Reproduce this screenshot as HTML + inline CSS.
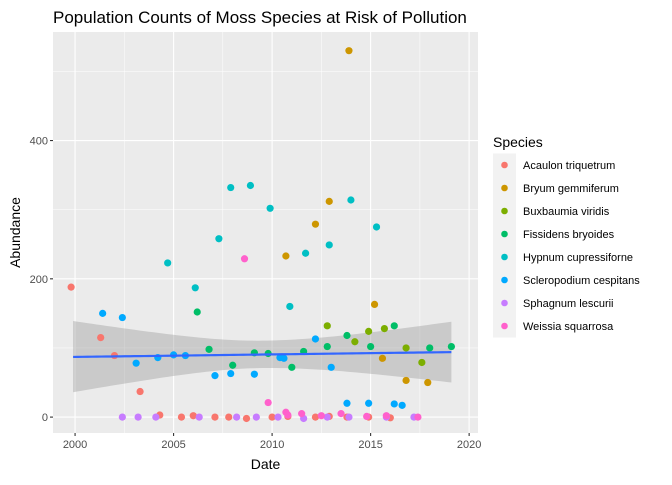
<!DOCTYPE html>
<html><head><meta charset="utf-8"><style>
body{margin:0;background:#fff;font-family:"Liberation Sans",Arial,sans-serif}
svg text{font-family:"Liberation Sans",Arial,sans-serif}
</style></head><body>
<svg id="chart" width="672" height="480" xmlns="http://www.w3.org/2000/svg"></svg>
<script>
const speciesNames=["Acaulon triquetrum","Bryum gemmiferum","Buxbaumia viridis","Fissidens bryoides","Hypnum cupressiforne","Scleropodium cespitans","Sphagnum lescurii","Weissia squarrosa"];
const speciesColors=["#F8766D","#CD9600","#7CAE00","#00BE67","#00BFC4","#00A9FF","#C77CFF","#FF61CC"];
const acaulonX=[1999.8,2001.3,2002.0,2003.3,2004.3,2005.4,2006.0,2007.1,2007.8,2008.7,2010.0,2010.8,2012.2,2012.9,2013.8,2014.9,2016.0];
const acaulonY=[188,115,89,37,3,0,2,0,0,-2,0,1,0,1,0,0,-1];
const bryumX=[2010.7,2012.2,2012.9,2013.9,2015.2,2015.6,2016.8,2017.9];
const bryumY=[233,279,312,530,163,85,53,50];
const buxX=[2012.8,2014.2,2014.9,2015.7,2016.8,2017.6];
const buxY=[132,109,124,128,100,79];
const fissX=[2006.2,2006.8,2008.0,2009.1,2009.8,2011.0,2011.6,2012.8,2013.8,2015.0,2016.2,2018.0,2019.1];
const fissY=[152,98,75,93,92,72,95,102,118,102,132,100,102];
const hypX=[2004.7,2006.1,2007.3,2007.9,2008.9,2009.9,2010.9,2011.7,2012.9,2014.0,2015.3];
const hypY=[223,187,258,332,335,302,160,237,249,314,275];
const sclX=[2001.4,2002.4,2003.1,2004.2,2005.0,2005.6,2007.1,2007.9,2009.1,2010.4,2010.6,2012.2,2013.0,2013.8,2014.9,2016.2,2016.6];
const sclY=[150,144,78,86,90,89,60,63,62,86,85,113,72,20,20,19,17];
const sphX=[2002.4,2003.2,2004.1,2006.3,2008.2,2009.2,2010.3,2011.6,2012.8,2013.9,2015.8,2017.2];
const sphY=[0,0,0,0,0,0,0,-2,0,0,0,0];
const weiX=[2008.6,2009.8,2010.7,2010.8,2011.5,2012.5,2013.5,2014.8,2015.8,2017.4];
const weiY=[229,21,7,3,5,2,5,1,2,0];
const seriesX=[acaulonX,bryumX,buxX,fissX,hypX,sclX,sphX,weiX];
const seriesY=[acaulonY,bryumY,buxY,fissY,hypY,sclY,sphY,weiY];
const trendX=[1999.9,2019.1];
const trendFit=[87,94];
const trendLower=[36,50];
const trendUpper=[139,138];
const xTicks=[2000,2005,2010,2015,2020];
const yTicks=[0,200,400];

const NS="http://www.w3.org/2000/svg";
const svg=document.getElementById('chart');
const P={l:53,r:478,t:32,b:433};
const xMin=1998.88,xMax=2020.45,yMin=-23,yMax=557;
const sx=v=>P.l+(v-xMin)/(xMax-xMin)*(P.r-P.l);
const sy=v=>P.b-(v-yMin)/(yMax-yMin)*(P.b-P.t);
function mk(tag,attrs,parent){const e=document.createElementNS(NS,tag);for(const k in attrs)e.setAttribute(k,attrs[k]);(parent||svg).appendChild(e);return e;}

const bg=mk('rect',{x:P.l,y:P.t,width:P.r-P.l,height:P.b-P.t,fill:'#EBEBEB'});


const grid=mk('g',{});


for(let i=0;i<xTicks.length-1;i++){const m=(xTicks[i]+xTicks[i+1])/2;mk('line',{x1:sx(m),x2:sx(m),y1:P.t,y2:P.b,stroke:'#fff','stroke-width':0.5},grid);}
for(let i=0;i<yTicks.length-1;i++){const m=(yTicks[i]+yTicks[i+1])/2;mk('line',{x1:P.l,x2:P.r,y1:sy(m),y2:sy(m),stroke:'#fff','stroke-width':0.5},grid);}
mk('line',{x1:P.l,x2:P.r,y1:sy(500),y2:sy(500),stroke:'#fff','stroke-width':0.5},grid);
xTicks.forEach(t=>{mk('line',{x1:sx(t),x2:sx(t),y1:P.t,y2:P.b,stroke:'#fff','stroke-width':1.1},grid);
 mk('line',{x1:sx(t),x2:sx(t),y1:P.b,y2:P.b+3,stroke:'#333','stroke-width':1.1});
 const tx=mk('text',{x:sx(t),y:P.b+15,'text-anchor':'middle','font-size':11,fill:'#4D4D4D'});tx.textContent=t;
 
 });
yTicks.forEach(t=>{mk('line',{x1:P.l,x2:P.r,y1:sy(t),y2:sy(t),stroke:'#fff','stroke-width':1.1},grid);
 mk('line',{x1:P.l-3,x2:P.l,y1:sy(t),y2:sy(t),stroke:'#333','stroke-width':1.1});
 const tx=mk('text',{x:P.l-5,y:sy(t)+4,'text-anchor':'end','font-size':11,fill:'#4D4D4D'});tx.textContent=t;
 
 });

// linear fit band: fit linear, bounds hyperbolic-ish via quadratic interpolation of half-width
const up=[],lo=[],ln=[];
const xm=(trendX[0]+trendX[1])/2;
const hw0=(trendUpper[0]-trendLower[0])/2,hw1=(trendUpper[1]-trendLower[1])/2;
const hwMin=Math.min(hw0,hw1)*0.45;
for(let k=0;k<=80;k++){const u=k/80,x=trendX[0]+(trendX[1]-trendX[0])*u;
 const f=trendFit[0]+(trendFit[1]-trendFit[0])*u;
 const d=(u-0.5)*2;
 const edge=u<0.5?hw0:hw1;
 const hw=Math.sqrt(hwMin*hwMin+(edge*edge-hwMin*hwMin)*d*d);
 const c0=(trendUpper[0]+trendLower[0])/2,c1=(trendUpper[1]+trendLower[1])/2;
 const c=f+((c0-trendFit[0])*(1-u)+(c1-trendFit[1])*u);
 up.push(sx(x)+','+sy(c+hw));lo.unshift(sx(x)+','+sy(c-hw));ln.push(sx(x)+','+sy(f));}
const rib=mk('polygon',{points:up.concat(lo).join(' '),fill:'#999',opacity:0.4});



seriesX.forEach((xs,i)=>{const g=mk('g',{});
 
 
 xs.forEach((x,j)=>{const c=mk('circle',{cx:sx(x),cy:sy(seriesY[i][j]),r:3.6,fill:speciesColors[i]},g);
  
  });});

const fl=mk('polyline',{points:ln.join(' '),fill:'none',stroke:'#3366FF','stroke-width':2.2});



const title=mk('text',{x:53,y:23,'font-size':17,fill:'#000'});title.textContent='Population Counts of Moss Species at Risk of Pollution';


const xt=mk('text',{x:(P.l+P.r)/2,y:469,'text-anchor':'middle','font-size':14,fill:'#000'});xt.textContent='Date';


const yt=mk('text',{x:0,y:0,'text-anchor':'middle','font-size':14,fill:'#000',transform:'translate(20,'+((P.t+P.b)/2)+') rotate(-90)'});yt.textContent='Abundance';



const lg=mk('g',{});


const lt=mk('text',{x:493,y:147,'font-size':14,fill:'#000'},lg);lt.textContent='Species';


speciesNames.forEach((nm,i)=>{const cy=165+i*23;
 const e=mk('g',{},lg);
 
 
 mk('rect',{x:493,y:cy-11.5,width:23,height:23,fill:'#F2F2F2'},e);
 mk('circle',{cx:504.5,cy:cy,r:3.3,fill:speciesColors[i]},e);
 const t=mk('text',{x:523,y:cy+4,'font-size':11,fill:'#000'},e);t.textContent=nm;});
</script>
</body></html>
